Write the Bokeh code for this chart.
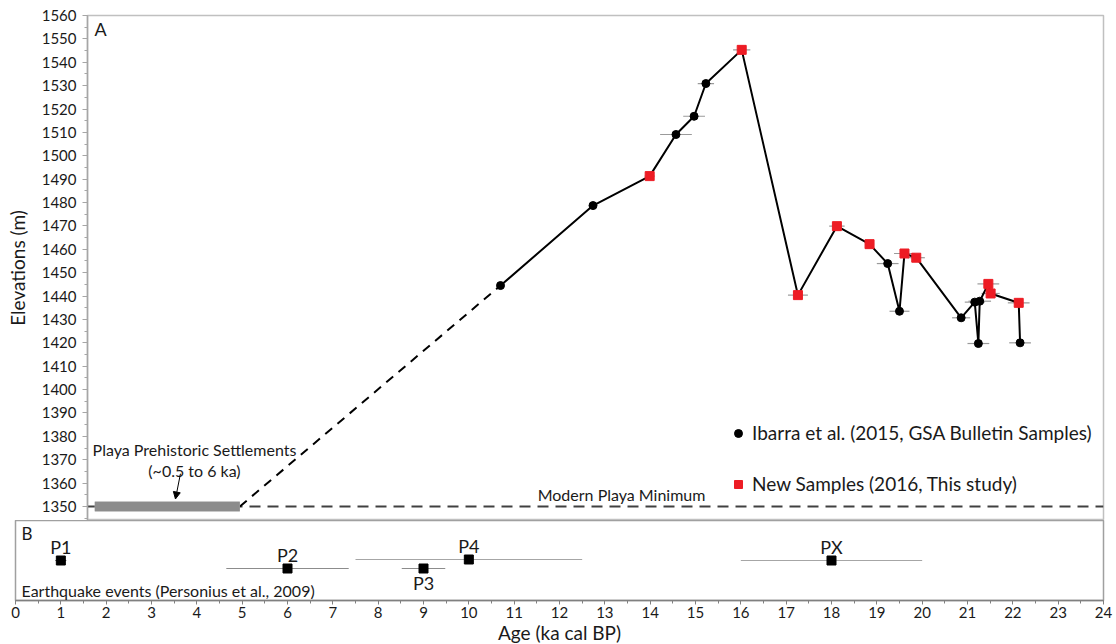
import numpy as np
from bokeh.plotting import figure
from bokeh.layouts import column
from bokeh.models import (Range1d, SingleIntervalTicker, Label, Span, Arrow, NormalHead,
                          Legend, LegendItem, ColumnDataSource)
from bokeh.core.properties import value
from bokeh.embed import file_html
from bokeh.resources import INLINE

FONT = "Lato"
TXT = "#1a1a1a"
AXC = "#a6a6a6"

# ---------------- data ----------------
# Ibarra et al. (2015, GSA Bulletin samples): age (ka cal BP), elevation (m), age error (ka)
ibarra_age = [10.70, 12.74, 14.57, 14.97, 15.23, 19.24, 19.50, 20.86, 21.16, 21.24, 21.27, 22.16]
ibarra_elev = [1444.5, 1478.7, 1509.1, 1516.9, 1530.9, 1453.9, 1433.5, 1430.7, 1437.4, 1419.7, 1437.8, 1420.0]
ibarra_err = [0.06, 0.06, 0.35, 0.24, 0.18, 0.24, 0.22, 0.20, 0.22, 0.24, 0.25, 0.24]

# New samples (2016, this study)
new_age = [13.99, 16.02, 17.26, 18.12, 18.84, 19.61, 19.87, 21.46, 21.51, 22.13]
new_elev = [1491.3, 1545.3, 1440.4, 1469.9, 1462.2, 1458.2, 1456.4, 1445.2, 1441.1, 1437.1]
new_err = [0.11, 0.19, 0.22, 0.17, 0.10, 0.23, 0.19, 0.24, 0.20, 0.24]

playa_min = 1350            # modern playa minimum elevation (m)
settle_start = 1.75         # prehistoric settlement bar (ka)
settle_end = 4.95

# Earthquake events (Personius et al., 2009)
eq_names = ["P1", "P2", "P3", "P4", "PX"]
eq_age = [1.0, 6.0, 9.0, 10.0, 18.0]
eq_err = [0.12, 1.35, 0.48, 2.5, 2.0]
eq_row = [40, 32, 32, 41, 40]
eq_label_side = ["above", "above", "below", "above", "above"]
eq_bar_color = ["#404040", "#8c8c8c", "#8c8c8c", "#a6a6a6", "#a6a6a6"]

x_ticks_max = 24

# ---------------- top panel (A) ----------------
top = figure(frame_width=1016, frame_height=505,
             x_range=Range1d(1.59, 24.0), y_range=Range1d(1344, 1560),
             output_backend="svg", toolbar_location=None, x_axis_location=None,
             min_border_left=87, min_border_top=15, min_border_right=10, min_border_bottom=0)
top.frame_align = False
top.grid.visible = False
top.outline_line_color = "#c0c0c0"
top.outline_line_width = 1.5

yax = top.yaxis[0]
yax.ticker = SingleIntervalTicker(interval=10, num_minor_ticks=2)
yax.axis_label = "Elevations (m)"
yax.axis_label_text_font = FONT
yax.axis_label_text_font_size = "19px"
yax.axis_label_text_font_style = "normal"
yax.axis_label_text_color = TXT
yax.axis_label_standoff = 10
yax.major_label_text_font = FONT
yax.major_label_text_font_size = "15px"
yax.major_label_text_color = TXT
yax.major_label_standoff = 6
yax.axis_line_color = AXC
yax.axis_line_width = 1.5
yax.major_tick_line_color = AXC
yax.minor_tick_line_color = AXC
yax.major_tick_in = 0
yax.major_tick_out = 5
yax.minor_tick_in = 0
yax.minor_tick_out = 3

# modern playa minimum (drawn beneath the glyphs)
top.add_layout(Span(location=playa_min, dimension="width", line_color="#404040",
                    line_width=2, line_dash="11 7", level="underlay"))

# error bars
ia = np.array(ibarra_age); ie = np.array(ibarra_err)
na = np.array(new_age); ne = np.array(new_err)
top.segment(x0=ia - ie, x1=ia + ie, y0=ibarra_elev, y1=ibarra_elev, line_color="#9a9a9a", line_width=1.2)
top.segment(x0=na - ne, x1=na + ne, y0=new_elev, y1=new_elev, line_color="#9a9a9a", line_width=1.2)

# dashed extrapolation to the playa
top.line([settle_end, ibarra_age[0]], [playa_min, ibarra_elev[0]], line_color="black",
         line_width=2, line_dash="9 7")

# settlement bar
top.line([settle_start, settle_end], [playa_min, playa_min], line_color="#c8c8c8",
         line_width=11, line_cap="butt")
top.line([settle_start, settle_end], [playa_min, playa_min], line_color="#8c8c8c",
         line_width=9, line_cap="butt")

# connecting line (all samples in age order)
all_age = np.array(ibarra_age + new_age)
all_elev = np.array(ibarra_elev + new_elev)
order = np.argsort(all_age)
top.line(all_age[order], all_elev[order], line_color="black", line_width=2)

r_ib = top.scatter(ibarra_age, ibarra_elev, marker="circle", size=8, color="black")
r_new = top.scatter(new_age, new_elev, marker="square", size=9, color="#ed1c24")

# annotations
top.add_layout(Label(x=3.95, y=1374.4, text="Playa Prehistoric Settlements", text_align="center",
                     text_baseline="middle", text_font=FONT, text_font_size="16px", text_color=TXT))
top.add_layout(Label(x=3.95, y=1365.6, text="(~0.5 to 6 ka)", text_align="center",
                     text_baseline="middle", text_font=FONT, text_font_size="16px", text_color=TXT))
top.add_layout(Arrow(end=NormalHead(size=7, fill_color="black", line_color="black"),
                     x_start=3.64, y_start=1364.0, x_end=3.53, y_end=1353.2,
                     line_color="black", line_width=1))
top.add_layout(Label(x=13.37, y=1355.2, text="Modern Playa Minimum", text_align="center",
                     text_baseline="middle", text_font=FONT, text_font_size="16px", text_color=TXT))
top.add_layout(Label(x=7, y=503, x_units="screen", y_units="screen", text="A",
                     text_baseline="top", text_font=FONT, text_font_size="18px", text_color=TXT))

legend = Legend(items=[LegendItem(label="Ibarra et al. (2015, GSA Bulletin Samples)", renderers=[r_ib]),
                       LegendItem(label="New Samples (2016, This study)", renderers=[r_new])],
                location=(641, 25), orientation="vertical",
                glyph_width=20, glyph_height=20, label_standoff=4, spacing=28,
                padding=0, margin=0, border_line_alpha=0, background_fill_alpha=0,
                label_text_font=FONT, label_text_font_size="19px", label_text_color=TXT)
top.add_layout(legend)

# ---------------- bottom panel (B) ----------------
bot = figure(frame_width=1088, frame_height=80,
             x_range=Range1d(0, x_ticks_max), y_range=Range1d(0, 80),
             output_backend="svg", toolbar_location=None, y_axis_location=None,
             min_border_left=15, min_border_right=10, min_border_top=0, min_border_bottom=0)
bot.frame_align = False
bot.grid.visible = False
bot.outline_line_color = "#a0a0a0"
bot.outline_line_width = 1.5

xax = bot.xaxis[0]
xax.ticker = SingleIntervalTicker(interval=1, num_minor_ticks=2)
xax.axis_label = "Age (ka cal BP)"
xax.axis_label_text_font = FONT
xax.axis_label_text_font_size = "19px"
xax.axis_label_text_font_style = "normal"
xax.axis_label_text_color = TXT
xax.axis_label_standoff = 0
xax.major_label_text_font = FONT
xax.major_label_text_font_size = "15px"
xax.major_label_text_color = TXT
xax.major_label_standoff = 2
xax.axis_line_color = "#808080"
xax.axis_line_width = 1.5
xax.major_tick_line_color = "#808080"
xax.minor_tick_line_color = "#808080"
xax.major_tick_in = 0
xax.major_tick_out = 4
xax.minor_tick_in = 0
xax.minor_tick_out = 3

ea = np.array(eq_age); ee = np.array(eq_err)
bot.segment(x0=ea - ee, x1=ea + ee, y0=eq_row, y1=eq_row, line_color=eq_bar_color, line_width=1.2)
bot.scatter(eq_age, eq_row, marker="square", size=9, color="black")

offsets = [-14 if s == "above" else 14 for s in eq_label_side]
src = ColumnDataSource(dict(x=eq_age, y=eq_row, t=eq_names, off=offsets))
bot.text(x="x", y="y", text="t", y_offset="off", source=src, text_align="center",
         text_baseline="alphabetic", text_font=value(FONT), text_font_size=value("18px"),
         text_color=TXT)

bot.add_layout(Label(x=6, y=78, x_units="screen", y_units="screen", text="B",
                     text_baseline="top", text_font=FONT, text_font_size="17px", text_color=TXT))
bot.add_layout(Label(x=6, y=10, x_units="screen", y_units="screen",
                     text="Earthquake events (Personius et al., 2009)",
                     text_baseline="middle", text_font=FONT, text_font_size="16px", text_color=TXT))

layout = column(top, bot, spacing=0)
open("out.html", "w").write(file_html(layout, INLINE))
